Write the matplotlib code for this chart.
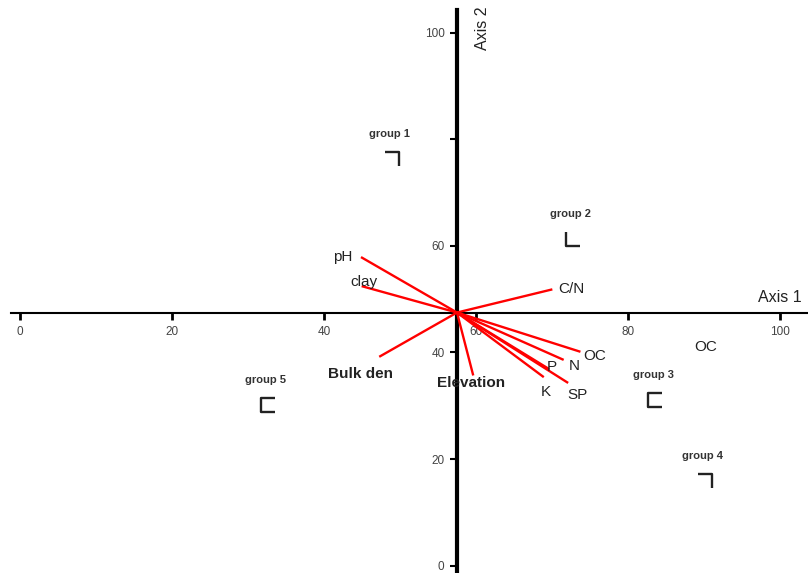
import matplotlib
matplotlib.use("Agg")
import matplotlib.pyplot as plt
from matplotlib.path import Path

plt.rcParams['font.family'] = ['Liberation Sans', 'DejaVu Sans']

# Environmental vectors (end points, axis units)
var_names = ["pH", "clay", "C/N", "Bulk den", "Elevation", "OC", "N", "P", "K", "SP"]
var_x = [45.0, 45.1, 69.9, 47.4, 59.6, 73.6, 71.4, 69.5, 68.8, 72.0]
var_y = [57.8, 52.4, 51.8, 39.3, 35.9, 40.2, 38.7, 37.0, 35.5, 34.4]
# label positions for the vectors
lab_x = [42.5, 45.3, 72.5, 44.8, 59.4, 75.6, 72.9, 70.0, 69.2, 73.3]
lab_y = [58.0, 53.3, 51.9, 35.9, 34.2, 39.3, 37.4, 37.2, 32.6, 32.1]
lab_bold = [False, False, False, True, True, False, False, False, False, False]

# Group centroids
group_names = ["group 1", "group 2", "group 3", "group 4", "group 5"]
group_x = [48.9, 72.8, 83.6, 90.1, 32.6]
group_y = [76.3, 61.3, 31.1, 15.9, 30.1]
group_shape = ["corner_tr", "corner_bl", "bracket", "corner_tr", "bracket"]

origin = (57.5, 47.5)
x_ticks = [0, 20, 40, 60, 80, 100]
y_ticks = [0, 20, 40, 60, 80, 100]
y_ticklabels = ["0", "20", "40", "60", "", "100"]

shapes = {
    "corner_tr": Path([(-1, 1), (1, 1), (1, -1)]),
    "corner_bl": Path([(-1, 1), (-1, -1), (1, -1)]),
    "bracket": Path([(1, 1), (-1, 1), (-1, -1), (1, -1)]),
}

fig = plt.figure(figsize=(8.08, 5.73), dpi=100)
ax = fig.add_axes([11 / 808, 0, 797 / 808, 563 / 573])
ax.set_xlim(-1.2, 103.7)
ax.set_ylim(-1.4, 104.3)

for s in ["top", "right"]:
    ax.spines[s].set_visible(False)
ax.spines["left"].set_position(("data", origin[0]))
ax.spines["bottom"].set_position(("data", origin[1]))
ax.spines["left"].set_linewidth(3)
ax.spines["bottom"].set_linewidth(1.5)
ax.spines["left"].set_zorder(1)
ax.spines["bottom"].set_zorder(1)

ax.set_xticks(x_ticks)
ax.set_xticklabels([str(t) for t in x_ticks])
ax.set_yticks(y_ticks)
ax.set_yticklabels(y_ticklabels)
ax.tick_params(axis="x", direction="out", length=5, width=2, labelsize=8.5,
               labelcolor="#444444", pad=5)
ax.tick_params(axis="y", direction="out", length=5, width=1.5, labelsize=8.5,
               labelcolor="#444444", pad=4)

# vectors
for name, vx, vy, lx, ly, b in zip(var_names, var_x, var_y, lab_x, lab_y, lab_bold):
    ax.plot([origin[0], vx], [origin[1], vy], color="red", lw=1.7, zorder=2)
    ax.text(lx, ly, name, fontsize=11, fontweight="bold" if b else "normal",
            color="#222222", ha="center", va="center", zorder=3)

# second OC label
ax.text(90.2, 41.0, "OC", fontsize=11, color="#222222", ha="center", va="center")

# groups
for name, gx, gy, sh in zip(group_names, group_x, group_y, group_shape):
    ax.plot([gx], [gy], marker=shapes[sh], markersize=10, mfc="none", mec="#222222",
            mew=1.7, linestyle="none")
    ax.text(gx - 0.3, gy + 4.7, name, fontsize=8, fontweight="bold",
            color="#333333", ha="center", va="center")

ax.text(100.0, 50.4, "Axis 1", fontsize=11.5, color="#222222", ha="center", va="center")
ax.text(60.9, 100.9, "Axis 2", fontsize=11.5, color="#222222", rotation=90,
        ha="center", va="center")

fig.savefig("out.png", dpi=100)
